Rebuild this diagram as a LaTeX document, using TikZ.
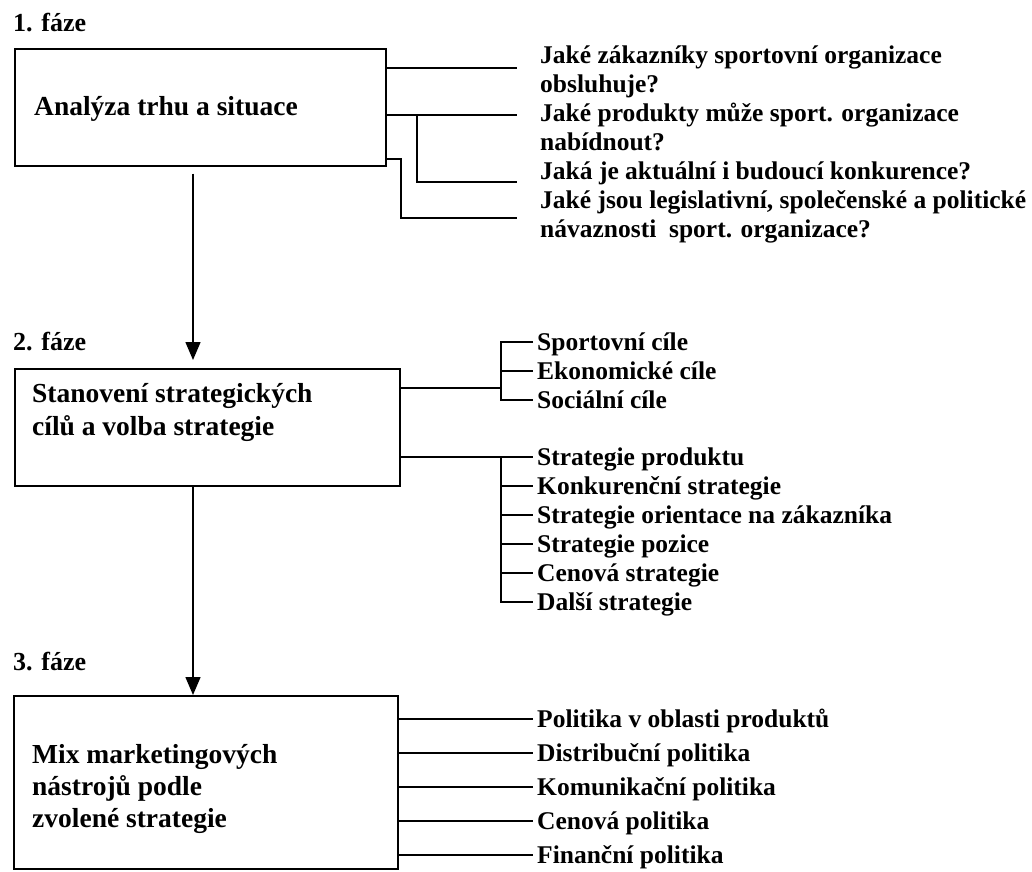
\documentclass[tikz,border=0pt]{standalone}
\usepackage{fontspec}
\setmainfont{Liberation Serif}
\usetikzlibrary{arrows.meta}

\tikzset{
  phasebox/.style={draw, line width=1.6pt, inner sep=0pt, anchor=north west},
  phaselabel/.style={anchor=base west, inner sep=0pt, font=\fontsize{26}{30}\selectfont\bfseries},
  boxtext/.style={anchor=base west, inner sep=0pt, align=left, font=\fontsize{27.5}{33}\selectfont\bfseries},
  question/.style={anchor=base west, inner sep=0pt, align=left, font=\fontsize{25.5}{29}\selectfont\bfseries},
  item/.style={anchor=west, inner xsep=4pt, inner ysep=0pt, text height=17pt, text depth=0pt, font=\fontsize{25.5}{29}\selectfont\bfseries},
  conn/.style={line width=1.4pt},
  flow/.style={line width=1.4pt, -{Triangle[length=18pt,width=15pt]}},
}

\begin{document}
\begin{tikzpicture}[x=1pt,y=-1pt]
	\useasboundingbox (0,0) rectangle (1032,871);
	% phase boxes (multi-line texts sit on the baseline of their last line)
	\node[phaselabel] (ph1) at (13,31) {1. fáze};
	\node[phasebox, minimum width=371pt, minimum height=117pt] (box1) at (14,48) {};
	\node[boxtext] (lab1) at (34,115) {Analýza trhu a situace};
	\node[phaselabel] (ph2) at (13,350) {2. fáze};
	\node[phasebox, minimum width=385pt, minimum height=117pt] (box2) at (14,368) {};
	\node[boxtext] (lab2) at (32,435) {Stanovení strategických\\cílů a volba strategie};
	\node[phaselabel] (ph3) at (13,670) {3. fáze};
	\node[phasebox, minimum width=384pt, minimum height=173pt] (box3) at (13,695) {};
	\node[boxtext, font=\fontsize{27.5}{32}\selectfont\bfseries] (lab3) at (32,827) {Mix marketingových\\nástrojů podle\\zvolené strategie};
	\coordinate (axis) at (193,0);
	\draw[flow, shorten <=7pt, shorten >=8pt] (box1.south -| axis) -- (box2.north -| axis);
	\draw[flow] (box2.south -| axis) -- (box3.north -| axis);
	% 1. faze: questions
	\node[question] (q1) at (540,92) {Jaké zákazníky sportovní organizace\\obsluhuje?};
	\node[question] (q2) at (540,150) {Jaké produkty může sport. organizace\\nabídnout?};
	\node[question] (q3) at (540,179) {Jaká je aktuální i budoucí konkurence?};
	\node[question] (q4) at (540,237) {Jaké jsou legislativní, společenské a politické\\návaznosti~ sport. organizace?};
	\coordinate (a1) at (517,68);
	\coordinate (a2) at (517,115);
	\coordinate (a3) at (517,182);
	\coordinate (a4) at (517,218);
	\coordinate (j1) at (417,115);
	\coordinate (j2) at (401,159);
	\draw[conn] (box1.east |- a1) -- (a1);
	\draw[conn] (box1.east |- a2) -- (a2);
	\draw[conn] (j1) |- (a3);
	\draw[conn] (box1.east |- j2) -- (j2) |- (a4);
	% 2. faze: goals
	\node[item] (goal1) at (533,342) {Sportovní cíle};
	\node[item] (goal2) at (533,371) {Ekonomické cíle};
	\node[item] (goal3) at (533,400) {Sociální cíle};
	\coordinate (b1) at (501,388);
	\draw[conn] (box2.east |- b1) -- (b1);
	\draw[conn] (goal1.west) -| (b1) |- (goal3.west);
	\draw[conn] (b1 |- goal2.west) -- (goal2.west);
	% 2. faze: strategies
	\node[item] (strat1) at (533,457) {Strategie produktu};
	\node[item] (strat2) at (533,486) {Konkurenční strategie};
	\node[item] (strat3) at (533,515) {Strategie orientace na zákazníka};
	\node[item] (strat4) at (533,544) {Strategie pozice};
	\node[item] (strat5) at (533,573) {Cenová strategie};
	\node[item] (strat6) at (533,602) {Další strategie};
	\coordinate (b2) at (501,0);
	\draw[conn] (box2.east |- strat1.west) -- (strat1.west);
	\draw[conn] (b2 |- strat1.west) |- (strat6.west);
	\draw[conn] (b2 |- strat2.west) -- (strat2.west);
	\draw[conn] (b2 |- strat3.west) -- (strat3.west);
	\draw[conn] (b2 |- strat4.west) -- (strat4.west);
	\draw[conn] (b2 |- strat5.west) -- (strat5.west);
	% 3. faze: policies
	\node[item] (pol1) at (533,719) {Politika v oblasti produktů};
	\node[item] (pol2) at (533,753) {Distribuční politika};
	\node[item] (pol3) at (533,787) {Komunikační politika};
	\node[item] (pol4) at (533,821) {Cenová politika};
	\node[item] (pol5) at (533,855) {Finanční politika};
	\draw[conn] (box3.east |- pol1.west) -- (pol1.west);
	\draw[conn] (box3.east |- pol2.west) -- (pol2.west);
	\draw[conn] (box3.east |- pol3.west) -- (pol3.west);
	\draw[conn] (box3.east |- pol4.west) -- (pol4.west);
	\draw[conn] (box3.east |- pol5.west) -- (pol5.west);
\end{tikzpicture}
\end{document}
